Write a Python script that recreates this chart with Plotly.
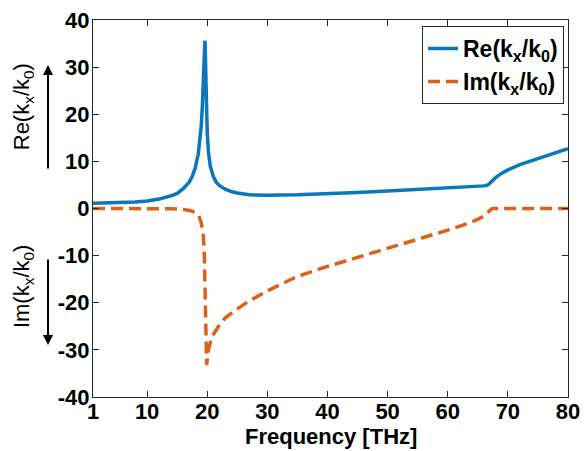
import plotly.graph_objects as go

# ---- data ----
freq_re = [1, 5, 8, 10, 12, 14, 15, 16, 17, 17.5, 18, 18.5, 18.8, 19.0, 19.2, 19.35, 19.45, 19.55, 19.6,
           19.65, 19.75, 19.85, 20.0, 20.2, 20.5, 21, 21.5, 22, 23, 24, 25, 27, 30, 35, 40, 45, 50, 55,
           60, 64, 66, 66.7, 67.2, 68, 69, 70, 72, 75, 78, 80]
re_kx = [1.1, 1.2, 1.4, 1.6, 2.0, 2.7, 3.2, 4.2, 5.6, 6.8, 8.6, 11.5, 14.5, 17.5, 22, 27, 31, 35, 35.6,
         35, 29, 22, 16, 12, 9, 6.8, 5.6, 4.9, 4.1, 3.6, 3.3, 2.9, 2.8, 2.9, 3.1, 3.4, 3.7, 4.0,
         4.3, 4.6, 4.8, 5.0, 5.7, 6.6, 7.5, 8.2, 9.3, 10.6, 11.9, 12.7]

freq_im = [1, 10, 14, 16, 17, 18, 18.6, 19.0, 19.3, 19.5, 19.6, 19.7, 19.8, 19.9, 20.0, 20.2, 20.6,
           21, 22, 23, 25, 27, 30, 35, 40, 45, 50, 55, 60, 63, 65, 66, 66.8, 67.4, 70, 80]
im_kx = [0, 0, -0.05, -0.2, -0.4, -0.8, -1.6, -3.0, -5, -9, -15, -24, -30, -33.2, -32, -30, -28,
         -26.8, -24.8, -23.2, -21.3, -19.6, -17.5, -14.4, -12.3, -10.4, -8.5, -6.6, -4.6, -3.3, -2.3,
         -1.6, -0.6, 0, 0, 0]

x_ticks = [1, 10, 20, 30, 40, 50, 60, 70, 80]
y_ticks = [-40, -30, -20, -10, 0, 10, 20, 30, 40]

BLUE = "#0A76BE"
ORANGE = "#DC6018"
FONT = "Liberation Sans, Arial, sans-serif"

fig = go.Figure()
fig.add_trace(go.Scatter(x=freq_re, y=re_kx, mode="lines",
                         name="Re(k<sub>x</sub>/k<sub>0</sub>)",
                         line=dict(color=BLUE, width=3.5)))
fig.add_trace(go.Scatter(x=freq_im, y=im_kx, mode="lines",
                         name="Im(k<sub>x</sub>/k<sub>0</sub>)",
                         line=dict(color=ORANGE, width=3.5, dash="12px,6px")))

axis_common = dict(showline=True, linecolor="#262626", linewidth=1, mirror="ticks",
                   ticks="inside", ticklen=6, tickcolor="#262626", showgrid=False,
                   zeroline=False, automargin=False,
                   tickfont=dict(family=FONT, size=22, color="black", weight="bold"))

fig.update_xaxes(range=[1, 80], tickvals=x_ticks, ticktext=[str(v) for v in x_ticks],
                 ticklabelstandoff=-5, **axis_common)
fig.update_yaxes(range=[-40, 40], tickvals=y_ticks, ticktext=[str(v) for v in y_ticks],
                 ticklabelstandoff=-2, **axis_common)

fig.update_layout(
    width=585, height=451,
    margin=dict(l=93, r=17, t=20, b=54),
    paper_bgcolor="white", plot_bgcolor="white",
    legend=dict(x=0.9916, y=0.984, xanchor="right", yanchor="top",
                bordercolor="#262626", borderwidth=1, bgcolor="white",
                itemwidth=30,
                font=dict(family=FONT, size=23, color="black", weight="bold"),
                tracegroupgap=0),
    showlegend=True,
)

# x-axis title
fig.add_annotation(text="Frequency [THz]", xref="paper", yref="paper",
                   x=0.5, y=(397 - 437) / 377, xanchor="center", yanchor="middle",
                   showarrow=False,
                   font=dict(family=FONT, size=22, color="black", weight="bold"))

# y-axis split labels with arrows
fig.add_annotation(text="Re(k<sub>x</sub>/k<sub>0</sub>)", xref="paper", yref="paper",
                   x=-0.147, y=0.769, xanchor="center", yanchor="middle",
                   textangle=-90, showarrow=False,
                   font=dict(family=FONT, size=22, color="black"))
fig.add_annotation(text="Im(k<sub>x</sub>/k<sub>0</sub>)", xref="paper", yref="paper",
                   x=-0.147, y=0.292, xanchor="center", yanchor="middle",
                   textangle=-90, showarrow=False,
                   font=dict(family=FONT, size=22, color="black"))
fig.add_annotation(text="", xref="paper", yref="paper", x=-0.0947, y=0.8806,
                   ax=0, ay=105, showarrow=True, arrowhead=2, arrowsize=1, arrowwidth=2,
                   arrowcolor="black")
fig.add_annotation(text="", xref="paper", yref="paper", x=-0.0947, y=(397 - 345) / 377,
                   ax=0, ay=-87, showarrow=True, arrowhead=2, arrowsize=1, arrowwidth=2,
                   arrowcolor="black")

fig.write_html("out.html")
